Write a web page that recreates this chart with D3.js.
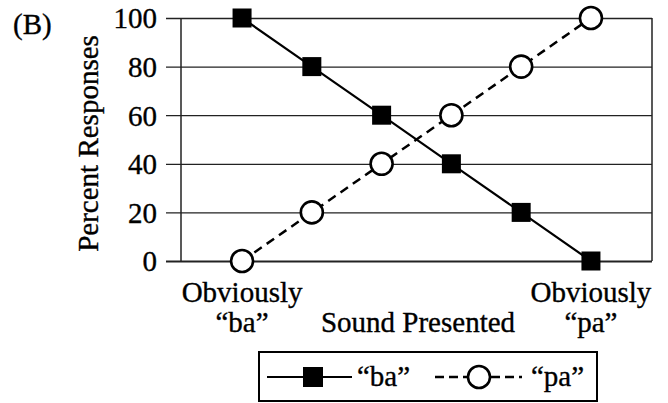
<!DOCTYPE html>
<html>
<head>
<meta charset="utf-8">
<script src="https://cdn.jsdelivr.net/npm/d3@7"></script>
<style>
  html, body { margin: 0; padding: 0; background: #fff; }
  svg { display: block; }
  text { font-family: 'Liberation Serif', 'DejaVu Serif', serif; stroke: #000; stroke-width: 0.35px; }
</style>
</head>
<body>
<svg id="chart" width="668" height="403"></svg>
<script>
// ---- data ----
const categories = ["1", "2", "3", "4", "5", "6"];
const baValues = [100, 80, 60, 40, 20, 0];
const paValues = [0, 20, 40, 60, 80, 100];
const yTicks = [0, 20, 40, 60, 80, 100];
const seriesNames = ["\u201Cba\u201D", "\u201Cpa\u201D"];
const endLabels = [["Obviously", "\u201Cba\u201D"], ["Obviously", "\u201Cpa\u201D"]];
const xTitle = "Sound Presented";
const yTitle = "Percent Responses";
const panelLabel = "(B)";

(function () {
const FF = "'Liberation Serif', 'DejaVu Serif', serif";
const svg = d3.select("#chart");
const pL = 181, pR = 652, pT = 18, pB = 261;
const fs = 29;

const x = d3.scalePoint().domain(categories).range([pL, pR]).padding(0.875);
const y = d3.scaleLinear().domain([0, 100]).range([pB, pT]);

// gridlines + tick labels
const yAxis = d3.axisLeft(y).tickValues(yTicks).tickSize(-(pR - pL)).tickFormat(d3.format("d"));
const gy = svg.append("g").attr("transform", `translate(${pL},0)`).call(yAxis)
  .attr("font-family", FF).attr("font-size", fs);
gy.select(".domain").remove();
gy.selectAll(".tick line")
  .attr("x1", -15)
  .attr("stroke", "#222")
  .attr("stroke-width", d => d === 0 ? 2 : 1.3);
gy.selectAll(".tick text")
  .attr("x", -24)
  .attr("dy", "0.34em")
  .attr("font-size", fs)
  .attr("font-family", FF)
  .attr("fill", "#000");

// left axis and right border
svg.append("line").attr("x1", pL).attr("x2", pL).attr("y1", y(100)).attr("y2", y(0))
  .attr("stroke", "#222").attr("stroke-width", 1.5);
svg.append("line").attr("x1", pR).attr("x2", pR).attr("y1", y(100)).attr("y2", y(0))
  .attr("stroke", "#222").attr("stroke-width", 1.5);

// series lines
const line = d3.line().x((d, i) => x(categories[i])).y(d => y(d));
svg.append("path").datum(baValues).attr("d", line)
  .attr("fill", "none").attr("stroke", "#000").attr("stroke-width", 2.2);
svg.append("path").datum(paValues).attr("d", line)
  .attr("fill", "none").attr("stroke", "#000").attr("stroke-width", 2.5)
  .attr("stroke-dasharray", "9,6");

// markers
const sq = 19;
svg.selectAll("rect.ba").data(baValues).enter().append("rect")
  .attr("class", "ba")
  .attr("x", (d, i) => x(categories[i]) - sq / 2)
  .attr("y", d => y(d) - sq / 2)
  .attr("width", sq).attr("height", sq)
  .attr("fill", "#000");
svg.selectAll("circle.pa").data(paValues).enter().append("circle")
  .attr("class", "pa")
  .attr("cx", (d, i) => x(categories[i]))
  .attr("cy", d => y(d))
  .attr("r", 11)
  .attr("fill", "#fff").attr("stroke", "#000").attr("stroke-width", 2.6);

const txt = (xx, yy, s, anchor) => svg.append("text")
  .attr("x", xx).attr("y", yy).attr("font-size", fs).attr("font-family", FF)
  .attr("text-anchor", anchor || "start").attr("fill", "#000").text(s);

// panel label
txt(13, 34, panelLabel);

// y title
svg.append("text")
  .attr("transform", `translate(98,${(pT + pB) / 2 + 4}) rotate(-90)`)
  .attr("text-anchor", "middle")
  .attr("font-size", fs).attr("font-family", FF)
  .text(yTitle);

// x end labels
[categories[0], categories[categories.length - 1]].forEach((c, k) => {
  txt(x(c), 302, endLabels[k][0], "middle");
  txt(x(c), 332, endLabels[k][1], "middle");
});
txt(418, 332, xTitle, "middle");

// legend
const lg = svg.append("g");
lg.append("rect").attr("x", 259).attr("y", 352).attr("width", 338).attr("height", 49)
  .attr("fill", "#fff").attr("stroke", "#000").attr("stroke-width", 2);
const ly = 377;
lg.append("line").attr("x1", 267).attr("x2", 352).attr("y1", ly).attr("y2", ly)
  .attr("stroke", "#000").attr("stroke-width", 2);
lg.append("rect").attr("x", 313 - 10).attr("y", ly - 10).attr("width", 20).attr("height", 20).attr("fill", "#000");
txt(357, 386, seriesNames[0]);
lg.append("line").attr("x1", 435).attr("x2", 522).attr("y1", ly).attr("y2", ly)
  .attr("stroke", "#000").attr("stroke-width", 2.5).attr("stroke-dasharray", "9,5");
lg.append("circle").attr("cx", 479).attr("cy", ly).attr("r", 11)
  .attr("fill", "#fff").attr("stroke", "#000").attr("stroke-width", 2.6);
txt(531, 386, seriesNames[1]);
})();
</script>
</body>
</html>
